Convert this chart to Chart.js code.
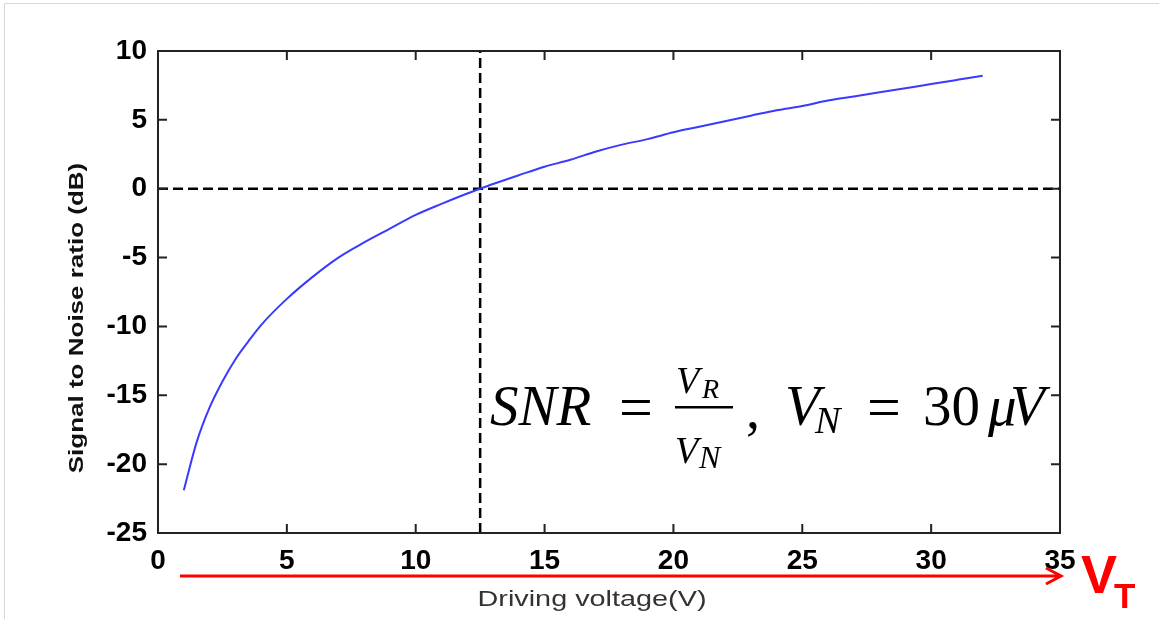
<!DOCTYPE html>
<html>
<head>
<meta charset="utf-8">
<script src="https://cdn.jsdelivr.net/npm/chart.js@4"></script>
<style>
  body { margin: 0; background: #fff; }
  #wrap { width: 1159px; height: 619px; position: relative; }
</style>
</head>
<body>
<div id="wrap"><canvas id="chartCanvas"></canvas></div>
<script>
// Driving voltage (V) and SNR (dB)
const voltage = [1, 1.5, 2, 2.5, 3, 3.5, 4, 5, 6, 7, 8, 9, 10, 11, 12, 12.5, 13, 14, 15, 16, 17, 18, 19, 20, 21, 22, 23, 24, 25, 26, 27, 28, 29, 30, 31, 32];
const snr = [-21.9, -18.4, -15.9, -14.0, -12.4, -11.1, -9.9, -8.0, -6.4, -5.0, -3.9, -2.9, -1.9, -1.1, -0.35, 0, 0.34, 0.98, 1.6, 2.1, 2.7, 3.2, 3.6, 4.1, 4.5, 4.9, 5.3, 5.7, 6.0, 6.4, 6.7, 7.0, 7.3, 7.6, 7.9, 8.2];

// reference lines
const zeroLineX = [0, 35];
const thresholdVoltage = 12.5;
const yRange = [-25, 10];
const xRange = [0, 35];

const curve = voltage.map((v, i) => ({ x: v, y: snr[i] }));
const hLine = zeroLineX.map(v => ({ x: v, y: 0 }));
const vLine = yRange.map(v => ({ x: thresholdVoltage, y: v }));

let chart;

// box, inward ticks, titles, arrow and formula
const decorations = {
  id: 'decorations',
  afterDraw(c) {
    const ctx = c.ctx;
    const a = c.chartArea;
    const xs = c.scales.x, ys = c.scales.y;
    ctx.save();

    // faint frame of the picture
    ctx.strokeStyle = '#d8d8d8';
    ctx.lineWidth = 1;
    ctx.beginPath();
    ctx.moveTo(4.5, 619); ctx.lineTo(4.5, 3.5); ctx.lineTo(1159, 3.5);
    ctx.stroke();

    // axis box
    ctx.strokeStyle = '#222';
    ctx.lineWidth = 2;
    ctx.strokeRect(a.left, a.top, a.right - a.left, a.bottom - a.top);

    // inward ticks
    const tl = 9;
    ctx.beginPath();
    xs.ticks.forEach(t => {
      const px = xs.getPixelForValue(t.value);
      ctx.moveTo(px, a.bottom); ctx.lineTo(px, a.bottom - tl);
      ctx.moveTo(px, a.top); ctx.lineTo(px, a.top + tl);
    });
    ys.ticks.forEach(t => {
      const py = ys.getPixelForValue(t.value);
      ctx.moveTo(a.left, py); ctx.lineTo(a.left + tl, py);
      ctx.moveTo(a.right, py); ctx.lineTo(a.right - tl, py);
    });
    ctx.stroke();

    // y title (stretched along the text like the original)
    ctx.fillStyle = '#111';
    ctx.font = 'bold 20px "Liberation Sans", Arial, sans-serif';
    ctx.textAlign = 'center';
    ctx.textBaseline = 'middle';
    ctx.save();
    ctx.translate(77, 318);
    ctx.rotate(-Math.PI / 2);
    ctx.scale(1.3, 1);
    ctx.fillText('Signal to Noise ratio (dB)', 0, 0);
    ctx.restore();

    // x title
    ctx.fillStyle = '#333';
    ctx.font = '22px "Liberation Sans", Arial, sans-serif';
    ctx.save();
    ctx.translate(592, 600);
    ctx.scale(1.31, 1);
    ctx.fillText('Driving voltage(V)', 0, 0);
    ctx.restore();

    // red arrow
    ctx.strokeStyle = '#ff0000';
    ctx.lineWidth = 3;
    ctx.beginPath();
    ctx.moveTo(180, 576); ctx.lineTo(1060, 576);
    ctx.moveTo(1046, 568); ctx.lineTo(1061, 576); ctx.lineTo(1046, 584);
    ctx.stroke();

    ctx.fillStyle = '#ff0000';
    ctx.textAlign = 'left';
    ctx.textBaseline = 'alphabetic';
    ctx.font = 'bold 54px "Liberation Sans", Arial, sans-serif';
    ctx.fillText('V', 1081, 593);
    ctx.font = 'bold 35px "Liberation Sans", Arial, sans-serif';
    ctx.fillText('T', 1114, 608);

    // formula
    ctx.fillStyle = '#000';
    const it = s => 'italic ' + s + 'px "Liberation Serif", "DejaVu Serif", serif';
    const up = s => s + 'px "Liberation Serif", "DejaVu Serif", serif';
    const put = (txt, font, x, y) => { ctx.font = font; ctx.fillText(txt, x, y); };
    put('SNR', it(57), 490, 425);
    put('=', up(60), 619, 427);
    put('V', it(38), 676, 393);
    put('R', it(28), 702, 398);
    ctx.fillRect(675, 406, 58, 2.5);
    put('V', it(38), 675, 463);
    put('N', it(32), 699, 468);
    put(',', up(56), 746, 428);
    put('V', it(57), 785, 425);
    put('N', it(38), 815, 433);
    put('=', up(60), 867, 427);
    put('30', up(57), 923, 425);
    put('\u03bc', it(57), 988, 425);
    put('V', it(57), 1010, 425);

    ctx.restore();
  }
};

function createChart() {
  const ctx = document.getElementById('chartCanvas').getContext('2d');
  if (chart) {
    chart.destroy();
  }
  chart = new Chart(ctx, {
    type: 'scatter',
    data: {
      datasets: [
        {
          label: 'SNR',
          data: curve,
          showLine: true,
          borderColor: '#3a3aff',
          borderWidth: 2,
          pointRadius: 0,
          cubicInterpolationMode: 'monotone',
        },
        {
          label: 'zero',
          data: hLine,
          showLine: true,
          borderColor: '#000',
          borderWidth: 2.5,
          borderDash: [10, 5],
          pointRadius: 0,
        },
        {
          label: 'threshold',
          data: vLine,
          showLine: true,
          borderColor: '#000',
          borderWidth: 2.5,
          borderDash: [10, 5],
          pointRadius: 0,
        }
      ]
    },
    options: {
      responsive: true,
      maintainAspectRatio: false,
      animation: false,
      layout: { padding: { top: 51, right: 99, left: 0, bottom: 0 } },
      plugins: {
        legend: { display: false },
        tooltip: { enabled: false },
      },
      scales: {
        x: {
          type: 'linear',
          min: xRange[0],
          max: xRange[1],
          grid: { display: false, drawTicks: false },
          border: { display: false },
          ticks: {
            stepSize: 5,
            padding: 11,
            color: '#000',
            font: { family: '"Liberation Sans", Arial, sans-serif', size: 28, weight: 'bold' },
          },
          afterFit: s => { s.height = 86; },
        },
        y: {
          min: yRange[0],
          max: yRange[1],
          grid: { display: false, drawTicks: false },
          border: { display: false },
          ticks: {
            stepSize: 5,
            padding: 11,
            color: '#000',
            font: { family: '"Liberation Sans", Arial, sans-serif', size: 28, weight: 'bold' },
          },
          afterFit: s => { s.width = 158; },
        }
      }
    },
    plugins: [decorations]
  });
}

createChart();
</script>
</body>
</html>
